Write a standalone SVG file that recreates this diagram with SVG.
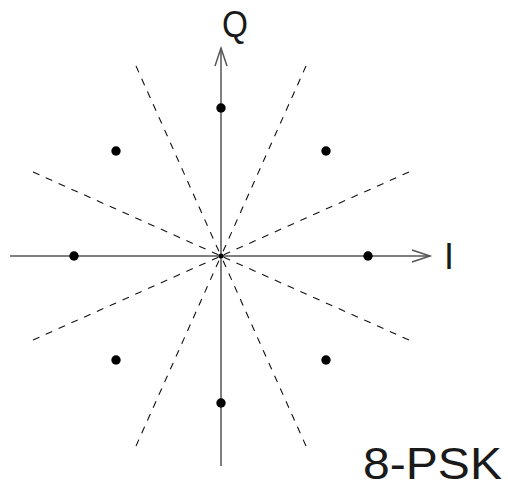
<svg xmlns="http://www.w3.org/2000/svg" width="508" height="489" viewBox="0 0 508 489">
<style>
.axis{stroke:#555;stroke-width:1.5;fill:none}
.dash{stroke:#111;stroke-width:1.1;stroke-dasharray:7,7;fill:none}
.pt{fill:#000}
.lbl{font-family:"Liberation Sans",Arial,sans-serif;fill:#1a1a1a}
</style>
<rect width="508" height="489" fill="#fff"/>
<g id="connectors">
<line class="dash" x1="136" y1="66" x2="221" y2="256"/>
<line class="dash" x1="306" y1="446" x2="221" y2="256"/>
<line class="dash" x1="306" y1="66" x2="221" y2="256"/>
<line class="dash" x1="136" y1="446" x2="221" y2="256"/>
<line class="dash" x1="33" y1="172" x2="221" y2="256"/>
<line class="dash" x1="409" y1="340" x2="221" y2="256"/>
<line class="dash" x1="409" y1="172" x2="221" y2="256"/>
<line class="dash" x1="33" y1="340" x2="221" y2="256"/>
<line class="axis" x1="10" y1="256" x2="430" y2="256"/>
<polyline class="axis" points="412,250 430,256 412,262"/>
<line class="axis" x1="221" y1="466" x2="221" y2="48"/>
<polyline class="axis" points="215,66 221,48 227,66"/>
</g>
<g id="points">
<circle class="pt" cx="221" cy="108" r="4.7"/>
<circle class="pt" cx="221" cy="403" r="4.7"/>
<circle class="pt" cx="74" cy="256" r="4.7"/>
<circle class="pt" cx="368" cy="256" r="4.7"/>
<circle class="pt" cx="116" cy="151" r="4.7"/>
<circle class="pt" cx="326" cy="151" r="4.7"/>
<circle class="pt" cx="116" cy="360" r="4.7"/>
<circle class="pt" cx="326" cy="360" r="4.7"/>
<circle class="pt" cx="221" cy="256" r="2.5"/>
</g>
<g id="labels">
<text class="lbl" x="222" y="37" font-size="36" textLength="26" lengthAdjust="spacingAndGlyphs">Q</text>
<text class="lbl" x="444" y="269" font-size="36">I</text>
<text class="lbl" x="363" y="479" font-size="44" textLength="139" lengthAdjust="spacingAndGlyphs">8-PSK</text>
</g>
</svg>
